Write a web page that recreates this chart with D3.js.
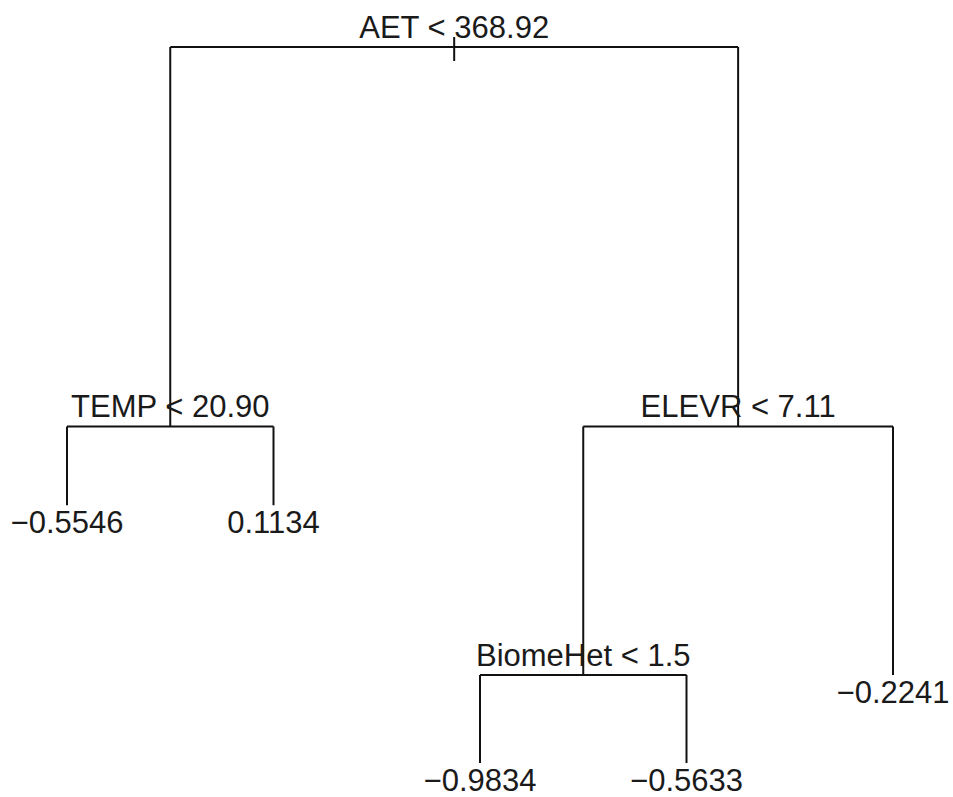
<!DOCTYPE html>
<html>
<head>
<meta charset="utf-8">
<script src="https://cdn.jsdelivr.net/npm/d3@7"></script>
<style>
  body { margin: 0; background: #fff; }
  svg { display: block; }
</style>
</head>
<body>
<div id="chart"></div>
<script>
// Tree nodes (R "tree" style plot): id, parent, split label / leaf value, relative deviance height
const nodeIds     = ["root", "temp", "elevr", "l1", "l2", "biome", "l5", "l3", "l4"];
const nodeParents = [null, "root", "root", "temp", "temp", "elevr", "elevr", "biome", "biome"];
const nodeLabels  = ["AET < 368.92", "TEMP < 20.90", "ELEVR < 7.11",
                     "\u22120.5546", "0.1134", "BiomeHet < 1.5", "\u22120.2241",
                     "\u22120.9834", "\u22120.5633"];
const nodeDev     = [1.0, 0.47, 0.47, 0.36, 0.36, 0.123, 0.123, 0.0, 0.0];

const width = 953;
const height = 797;

const table = nodeIds.map((id, i) => ({ id, parent: nodeParents[i], label: nodeLabels[i], dev: nodeDev[i] }));
const root = d3.stratify().id(d => d.id).parentId(d => d.parent)(table);

// leaves spaced 1..n left to right, internal nodes at the mean of their children
let leafIndex = 0;
root.eachAfter(n => {
    if (!n.children) n.pos = ++leafIndex;
    else n.pos = d3.mean(n.children, c => c.pos);
});

const x = d3.scaleLinear().domain([1, leafIndex]).range([67, 893]);
const y = d3.scaleLinear().domain([0, 1]).range([763, 47]);

const svg = d3.select("#chart").append("svg")
    .attr("width", width)
    .attr("height", height)
    .attr("viewBox", [0, 0, width, height]);

const lines = svg.append("g")
    .attr("stroke", "#111")
    .attr("stroke-width", 2)
    .attr("fill", "none");

const internal = root.descendants().filter(n => n.children);

// horizontal bar under each split
lines.selectAll("line.h")
    .data(internal)
    .join("line")
    .attr("class", "h")
    .attr("x1", d => x(d.children[0].pos))
    .attr("x2", d => x(d.children[1].pos))
    .attr("y1", d => y(d.data.dev))
    .attr("y2", d => y(d.data.dev));

// vertical drop to each child
lines.selectAll("line.v")
    .data(root.descendants().filter(n => n.parent))
    .join("line")
    .attr("class", "v")
    .attr("x1", d => x(d.pos))
    .attr("x2", d => x(d.pos))
    .attr("y1", d => y(d.parent.data.dev))
    .attr("y2", d => y(d.data.dev));

// small stub at the root
lines.append("line")
    .attr("x1", x(root.pos))
    .attr("x2", x(root.pos))
    .attr("y1", y(root.data.dev) - 10)
    .attr("y2", y(root.data.dev) + 14);

const labels = svg.append("g")
    .attr("font-family", "'Liberation Sans', Arial, sans-serif")
    .attr("font-size", 31)
    .attr("fill", "#1a1a1a")
    .attr("text-anchor", "middle");

labels.selectAll("text")
    .data(root.descendants())
    .join("text")
    .attr("x", d => x(d.pos))
    .attr("y", d => d.children ? y(d.data.dev) - 9 : y(d.data.dev) + 28)
    .text(d => d.data.label);
</script>
</body>
</html>
